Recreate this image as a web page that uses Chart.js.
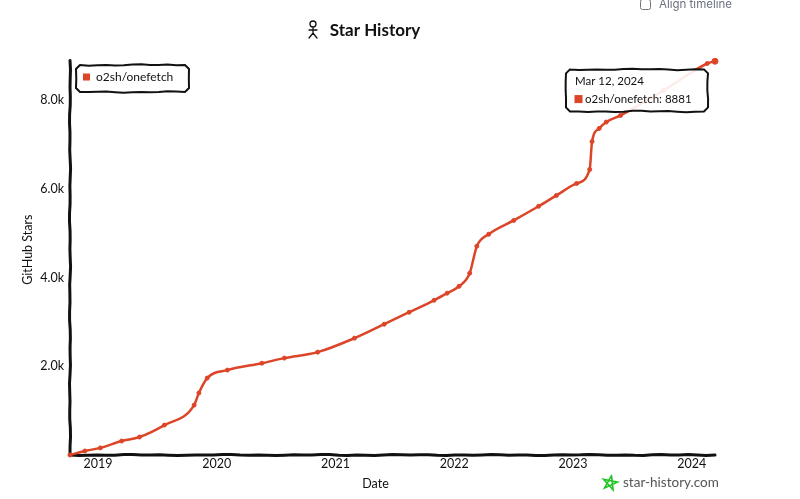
<!DOCTYPE html>
<html>
<head>
<meta charset="utf-8">
<title>Star History</title>
<script src="https://cdn.jsdelivr.net/npm/chart.js@4"></script>
<style>
  html, body { margin: 0; background: #fff; overflow: hidden; }
  #wrap { position: relative; width: 800px; height: 499px; overflow: hidden; }
  #align { position: absolute; left: 640px; top: -3px; font: 11.5px Inter, sans-serif; color: #6b7280; display: flex; align-items: center; }
  #align input { margin: 0 8px 0 0; width: 11px; height: 11px; }
</style>
</head>
<body>
<div id="wrap">
  <label id="align"><input type="checkbox">Align timeline</label>
  <canvas id="starChart" width="800" height="499"></canvas>
</div>
<script>
// --- Data ---
const repoName = 'o2sh/onefetch';
const lastDateLabel = 'Mar 12, 2024';
// dates as decimal years
const starDates = [2018.765, 2018.89, 2019.02, 2019.2, 2019.35, 2019.56, 2019.81, 2019.85, 2019.92,
    2020.09, 2020.38, 2020.57, 2020.85, 2021.16, 2021.41, 2021.62, 2021.83, 2021.94, 2022.04,
    2022.13, 2022.19, 2022.29, 2022.5, 2022.71, 2022.86, 2023.03, 2023.14, 2023.16, 2023.22,
    2023.28, 2023.4, 2023.76, 2024.13, 2024.195];
const starCounts = [0, 90, 160, 315, 405, 675, 1125, 1400, 1735,
    1915, 2070, 2185, 2320, 2635, 2950, 3220, 3490, 3650, 3805,
    4100, 4710, 4980, 5290, 5610, 5855, 6125, 6440, 7070, 7365,
    7510, 7660, 8220, 8830, 8881];
const yTickValues = [2000, 4000, 6000, 8000];

const lineColor = '#dd4528';
const fontFamily = 'Lato, sans-serif';

// hand drawn looking stroke between a list of corners
function sketchLine(ctx, corners, amp) {
    let n = 0;
    ctx.beginPath();
    ctx.moveTo(corners[0][0], corners[0][1]);
    for (let c = 1; c < corners.length; c++) {
        const [x0, y0] = corners[c - 1];
        const [x1, y1] = corners[c];
        const steps = Math.max(1, Math.round(Math.hypot(x1 - x0, y1 - y0) / 9));
        for (let i = 1; i <= steps; i++) {
            n++;
            const off = i === steps ? 0 : amp * (Math.sin(n * 1.7) + Math.sin(n * 0.63)) / 2;
            const px = x0 + (x1 - x0) * i / steps + (y1 !== y0 ? off : 0);
            const py = y0 + (y1 - y0) * i / steps + (x1 !== x0 ? off : 0);
            ctx.lineTo(px, py);
        }
    }
    ctx.stroke();
}

function sketchBox(ctx, x, y, w, h) {
    const r = 4;
    sketchLine(ctx, [[x + r, y], [x + w - r, y], [x + w, y + r], [x + w, y + h - r],
        [x + w - r, y + h], [x + r, y + h], [x, y + h - r], [x, y + r], [x + r, y]], 0.8);
}

function drawStickFigure(ctx, x, y) {
    ctx.lineWidth = 1.3;
    ctx.strokeStyle = '#111';
    ctx.beginPath();
    ctx.arc(x, y - 6, 3, 0, Math.PI * 2);
    ctx.moveTo(x, y - 3); ctx.lineTo(x, y + 3);
    ctx.moveTo(x - 4, y); ctx.lineTo(x + 4, y);
    ctx.moveTo(x - 4, y + 8); ctx.lineTo(x, y + 3); ctx.lineTo(x + 4, y + 8);
    ctx.stroke();
}

function drawStar(ctx, x, y) {
    ctx.lineWidth = 1.6;
    ctx.strokeStyle = '#22c524';
    ctx.beginPath();
    for (let i = 0; i <= 5; i++) {
        const a = -Math.PI / 2 + i * 4 * Math.PI / 5 + 0.2;
        const px = x + 7.5 * Math.cos(a), py = y + 7.5 * Math.sin(a);
        if (i === 0) ctx.moveTo(px, py); else ctx.lineTo(px, py);
    }
    ctx.stroke();
}

// axis titles sit off centre in the reference
function shiftAxisTitle(scale, dx, dy) {
    if (scale.titleShifted) return;
    scale.titleShifted = true;
    const drawTitle = scale.drawTitle;
    scale.drawTitle = function () {
        this.ctx.save();
        this.ctx.translate(dx, dy);
        drawTitle.call(this);
        this.ctx.restore();
    };
}

// axes, boxes and small drawings around the chart
const sketchPlugin = {
    id: 'sketch',
    afterLayout(chart) {
        // title is centred on 375, legend sits inside the plot
        chart.titleBlock.left = 0;
        chart.titleBlock.right = 750;
        const legend = chart.legend;
        const dx = 83 - legend.left, dy = 71 - legend.top;
        legend.left += dx; legend.right += dx; legend.top += dy; legend.bottom += dy;
        legend.legendHitBoxes.forEach(b => { b.left += dx; b.top += dy; });
        shiftAxisTitle(chart.scales.x, -17, 0);
        shiftAxisTitle(chart.scales.y, 0, -8);
    },
    beforeDatasetsDraw(chart) {
        const { ctx, chartArea: a } = chart;
        ctx.save();
        ctx.strokeStyle = '#111';
        ctx.lineWidth = 3;
        ctx.lineCap = 'round';
        sketchLine(ctx, [[a.left, a.top], [a.left, a.bottom]], 0.6);
        sketchLine(ctx, [[a.left, a.bottom], [a.right, a.bottom]], 0.6);
        ctx.restore();
    },
    beforeTooltipDraw(chart, args) {
        // box size of the reference tooltip
        args.tooltip.width = 142;
        args.tooltip.height = 42;
    },
    afterDraw(chart) {
        const { ctx, tooltip } = chart;
        ctx.save();
        ctx.strokeStyle = '#111';
        ctx.lineWidth = 2;
        ctx.lineCap = 'round';
        sketchBox(ctx, 76, 65, 113, 27);
        if (tooltip.opacity > 0) sketchBox(ctx, tooltip.x, tooltip.y, tooltip.width, tooltip.height);
        drawStickFigure(ctx, 313, 30);
        drawStar(ctx, 610, 483);
        ctx.fillStyle = '#555';
        ctx.font = '13.5px ' + fontFamily;
        ctx.textBaseline = 'middle';
        ctx.fillText('star-history.com', 623, 483);
        ctx.restore();
    }
};

Chart.Tooltip.positioners.topRightBox = function () {
    const a = this.chart.chartArea;
    return { x: a.right - 143, y: a.top + 9 };
};

const chart = new Chart(document.getElementById('starChart'), {
    type: 'line',
    data: {
        datasets: [{
            label: repoName,
            data: starDates.map((d, i) => ({ x: d, y: starCounts[i] })),
            borderColor: lineColor,
            backgroundColor: lineColor,
            borderWidth: 2.5,
            cubicInterpolationMode: 'monotone',
            pointRadius: 2,
            pointBorderWidth: 1,
            pointHoverRadius: 3,
            pointHoverBackgroundColor: lineColor,
            pointHoverBorderColor: lineColor,
            clip: false
        }]
    },
    options: {
        responsive: false,
        animation: false,
        events: [],
        layout: { padding: { right: 85 } },
        scales: {
            x: {
                type: 'linear',
                min: starDates[0],
                max: starDates[starDates.length - 1],
                afterFit(scale) { scale.height = 44; },
                grid: { display: false, drawTicks: false },
                border: { display: false },
                title: { display: true, text: 'Date', color: '#111', font: { family: fontFamily, size: 12.5 }, padding: { top: 3, bottom: 8 } },
                ticks: {
                    stepSize: 1,
                    includeBounds: false,
                    autoSkip: false,
                    maxRotation: 0,
                    padding: 1,
                    color: '#111',
                    font: { family: fontFamily, size: 12.5 },
                    callback: v => String(v)
                }
            },
            y: {
                min: 0,
                max: 8900,
                afterFit(scale) { scale.width = 70; },
                afterBuildTicks(scale) { scale.ticks = yTickValues.map(v => ({ value: v })); },
                grid: { display: false, drawTicks: false },
                border: { display: false },
                title: { display: true, text: 'GitHub Stars', color: '#111', font: { family: fontFamily, size: 12.5 }, padding: { top: 20, bottom: 0 } },
                ticks: {
                    padding: 6,
                    color: '#111',
                    font: { family: fontFamily, size: 12.5 },
                    callback: v => (v / 1000).toFixed(1) + 'k'
                }
            }
        },
        plugins: {
            title: {
                display: true,
                text: 'Star History',
                color: '#111',
                font: { family: fontFamily, size: 17, weight: 'bold' },
                padding: { top: 20, bottom: 20 }
            },
            legend: {
                position: 'chartArea',
                align: 'start',
                labels: {
                    boxWidth: 7,
                    boxHeight: 7,
                    padding: 0,
                    color: '#111',
                    font: { family: fontFamily, size: 12 },
                    generateLabels(chart) {
                        return Chart.defaults.plugins.legend.labels.generateLabels(chart).map(l => ({ ...l, lineWidth: 0 }));
                    }
                }
            },
            tooltip: {
                enabled: true,
                position: 'topRightBox',
                xAlign: 'left',
                yAlign: 'top',
                caretSize: 0,
                caretPadding: 0,
                backgroundColor: 'rgba(255,255,255,0.9)',
                titleColor: '#111',
                bodyColor: '#111',
                multiKeyBackground: lineColor,
                titleFont: { family: fontFamily, size: 11.5, weight: 'normal' },
                bodyFont: { family: fontFamily, size: 11.5 },
                titleMarginBottom: 4,
                padding: { top: 5, bottom: 5, left: 9, right: 8 },
                boxWidth: 7,
                boxHeight: 7,
                boxPadding: 1,
                callbacks: {
                    title: () => lastDateLabel,
                    label: item => item.dataset.label + ': ' + item.parsed.y,
                    labelColor: () => ({ borderColor: lineColor, backgroundColor: lineColor, borderWidth: 0 })
                }
            }
        }
    },
    plugins: [sketchPlugin]
});

// the reference shows the tooltip on the latest point
const lastIndex = starCounts.length - 1;
chart.setActiveElements([{ datasetIndex: 0, index: lastIndex }]);
chart.tooltip.setActiveElements([{ datasetIndex: 0, index: lastIndex }], { x: 0, y: 0 });
chart.update();
</script>
</body>
</html>
